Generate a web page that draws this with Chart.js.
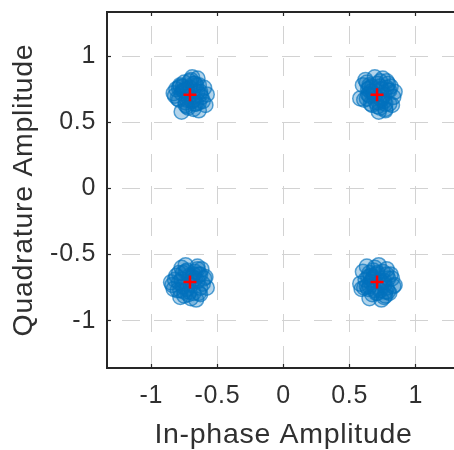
<!DOCTYPE html>
<html>
<head>
<meta charset="utf-8">
<script src="https://cdn.jsdelivr.net/npm/chart.js@4.4.1/dist/chart.umd.min.js"></script>
<style>
  html, body { margin: 0; padding: 0; background: #fff; overflow: hidden; width: 454px; height: 450px; }
  #wrap { width: 470px; height: 450px; }
</style>
</head>
<body>
<div id="wrap"><canvas id="constChart" width="470" height="450"></canvas></div>
<script>
// received symbols (one pair of lists per cluster)
const rxUpperLeftI = [-0.68, -0.76, -0.63, -0.73, -0.60, -0.80, -0.70, -0.66, -0.83, -0.64, -0.75, -0.61, -0.78, -0.69, -0.72, -0.58, -0.81, -0.67, -0.77, -0.62, -0.71, -0.74, -0.65, -0.79, -0.59, -0.82, -0.68, -0.76, -0.64, -0.73,
  -0.69, -0.75, -0.66, -0.72, -0.64, -0.77, -0.68, -0.79, -0.71, -0.65, -0.74, -0.67, -0.78, -0.63, -0.73];
const rxUpperLeftQ = [0.67, 0.77, 0.73, 0.62, 0.76, 0.68, 0.82, 0.64, 0.72, 0.59, 0.80, 0.66, 0.78, 0.84, 0.61, 0.71, 0.75, 0.79, 0.58, 0.69, 0.81, 0.65, 0.83, 0.76, 0.63, 0.70, 0.60, 0.74, 0.78, 0.67,
  0.66, 0.74, 0.78, 0.69, 0.65, 0.72, 0.79, 0.67, 0.76, 0.73, 0.63, 0.64, 0.77, 0.71, 0.75];
const rxUpperRightI = [0.65, 0.73, 0.80, 0.60, 0.75, 0.70, 0.83, 0.63, 0.77, 0.68, 0.81, 0.58, 0.72, 0.78, 0.66, 0.74, 0.62, 0.82, 0.69, 0.76, 0.64, 0.79, 0.71, 0.61, 0.84, 0.67, 0.73, 0.77, 0.65, 0.80,
  0.66, 0.74, 0.78, 0.69, 0.65, 0.72, 0.79, 0.67, 0.76, 0.73, 0.63, 0.64, 0.77, 0.71, 0.75];
const rxUpperRightQ = [0.76, 0.61, 0.74, 0.78, 0.83, 0.65, 0.69, 0.80, 0.60, 0.72, 0.77, 0.68, 0.58, 0.81, 0.64, 0.75, 0.82, 0.63, 0.84, 0.66, 0.71, 0.79, 0.62, 0.67, 0.73, 0.77, 0.81, 0.59, 0.70, 0.64,
  0.73, 0.67, 0.76, 0.70, 0.78, 0.65, 0.74, 0.63, 0.71, 0.77, 0.68, 0.75, 0.64, 0.79, 0.69];
const rxLowerLeftI = [-0.67, -0.84, -0.63, -0.77, -0.70, -0.60, -0.80, -0.73, -0.65, -0.82, -0.58, -0.75, -0.68, -0.85, -0.62, -0.78, -0.71, -0.66, -0.81, -0.59, -0.74, -0.64, -0.79, -0.69, -0.83, -0.61, -0.76, -0.65, -0.72, -0.63,
  -0.73, -0.67, -0.76, -0.70, -0.78, -0.65, -0.74, -0.63, -0.71, -0.77, -0.68, -0.75, -0.64, -0.79, -0.69];
const rxLowerLeftQ = [-0.63, -0.73, -0.80, -0.60, -0.83, -0.68, -0.77, -0.62, -0.59, -0.69, -0.75, -0.81, -0.65, -0.71, -0.61, -0.82, -0.78, -0.84, -0.66, -0.67, -0.58, -0.79, -0.64, -0.70, -0.76, -0.72, -0.74, -0.61, -0.80, -0.65,
  -0.76, -0.68, -0.64, -0.73, -0.77, -0.70, -0.63, -0.75, -0.66, -0.69, -0.79, -0.78, -0.65, -0.71, -0.67];
const rxLowerRightI = [0.62, 0.76, 0.72, 0.59, 0.81, 0.67, 0.78, 0.64, 0.83, 0.74, 0.60, 0.79, 0.69, 0.75, 0.65, 0.82, 0.58, 0.71, 0.77, 0.63, 0.73, 0.61, 0.80, 0.68, 0.76, 0.66, 0.84, 0.70, 0.78, 0.65,
  0.76, 0.68, 0.64, 0.73, 0.77, 0.70, 0.63, 0.75, 0.66, 0.69, 0.79, 0.78, 0.65, 0.71, 0.67];
const rxLowerRightQ = [-0.69, -0.82, -0.58, -0.76, -0.65, -0.80, -0.61, -0.67, -0.74, -0.84, -0.63, -0.78, -0.60, -0.71, -0.83, -0.68, -0.72, -0.64, -0.81, -0.59, -0.77, -0.75, -0.79, -0.62, -0.70, -0.66, -0.73, -0.79, -0.65, -0.74,
  -0.73, -0.67, -0.76, -0.70, -0.78, -0.65, -0.74, -0.63, -0.71, -0.77, -0.68, -0.75, -0.64, -0.79, -0.69];

// reference constellation (QPSK)
const refI = [-0.707, 0.707, -0.707, 0.707];
const refQ = [0.707, 0.707, -0.707, -0.707];

const tickVals = [-1, -0.5, 0, 0.5, 1];
const tickLabels = ['-1', '-0.5', '0', '0.5', '1'];
const xRange = [-1.334, 1.334];
const yRange = [-1.357, 1.333];

const FONT = '"Liberation Sans", Arial, Helvetica, sans-serif';
const INK = '#262626';
const TEXT = '#303030';
const GRID = '#d2d2d2';

const toPoints = (xs, ys) => xs.map((x, i) => ({ x, y: ys[i] }));
const rxPoints = []
  .concat(toPoints(rxUpperLeftI, rxUpperLeftQ))
  .concat(toPoints(rxUpperRightI, rxUpperRightQ))
  .concat(toPoints(rxLowerLeftI, rxLowerLeftQ))
  .concat(toPoints(rxLowerRightI, rxLowerRightQ));

const setTicks = scale => { scale.ticks = tickVals.map(v => ({ value: v })); };
const fitTo = (w, h) => s => {
  if (w !== null) s.width = w;
  if (h !== null) s.height = h;
  s.paddingTop = 0; s.paddingBottom = 0; s.paddingLeft = 0; s.paddingRight = 0;
};
const tickText = (v, i) => tickLabels[i];

// MATLAB text is a bit wider than Arial, spread the letters slightly
const letterSpread = {
  id: 'letterSpread',
  beforeDraw(chart) { chart.ctx.letterSpacing = '0.7px'; }
};

new Chart(document.getElementById('constChart'), {
  type: 'scatter',
  data: {
    datasets: [
      {
        label: 'Reference',
        data: toPoints(refI, refQ),
        pointStyle: 'cross',
        pointRadius: 6.5,
        borderColor: '#ff0000',
        borderWidth: 2.5
      },
      {
        label: 'Received',
        data: rxPoints,
        pointStyle: 'circle',
        pointRadius: 7.5,
        borderColor: 'rgba(0,114,189,0.65)',
        backgroundColor: 'rgba(0,114,189,0.3)',
        borderWidth: 1.5
      }
    ]
  },
  options: {
    responsive: false,
    animation: false,
    events: [],
    layout: { padding: { left: 0, top: 0, right: 10, bottom: 0 } },
    plugins: { legend: { display: false }, tooltip: { enabled: false } },
    scales: {
      x: {
        type: 'linear', position: 'bottom', min: xRange[0], max: xRange[1],
        afterBuildTicks: setTicks,
        afterFit: fitTo(null, 82),
        grid: { color: GRID, lineWidth: 1, tickLength: -4, tickColor: INK, tickWidth: 1.2, tickBorderDash: [] },
        border: { color: INK, width: 2, dash: [18, 14], dashOffset: 18 },
        ticks: { color: TEXT, padding: 17, maxRotation: 0, callback: tickText, font: { family: FONT, size: 25 } },
        title: { display: true, text: 'In-phase Amplitude', color: TEXT, padding: { top: 0, bottom: 1 }, font: { family: FONT, size: 28.5, lineHeight: 1 } }
      },
      x2: {
        type: 'linear', position: 'top', min: xRange[0], max: xRange[1],
        afterBuildTicks: setTicks,
        afterFit: fitTo(null, 12),
        grid: { drawOnChartArea: false, tickLength: -4, tickColor: INK, tickWidth: 1.2 },
        border: { color: INK, width: 2 },
        ticks: { display: false }
      },
      y: {
        type: 'linear', position: 'left', min: yRange[0], max: yRange[1],
        afterBuildTicks: setTicks,
        afterFit: fitTo(107, null),
        grid: { color: GRID, lineWidth: 1, tickLength: -4, tickColor: INK, tickWidth: 1.2, tickBorderDash: [] },
        border: { color: INK, width: 2, dash: [18, 14], dashOffset: 18 },
        ticks: { color: TEXT, padding: 15, callback: tickText, font: { family: FONT, size: 25 } },
        title: { display: true, text: 'Quadrature Amplitude', color: TEXT, padding: { top: 10, bottom: 0 }, font: { family: FONT, size: 28.5, lineHeight: 1 } }
      }
    }
  },
  plugins: [letterSpread]
});
</script>
</body>
</html>
